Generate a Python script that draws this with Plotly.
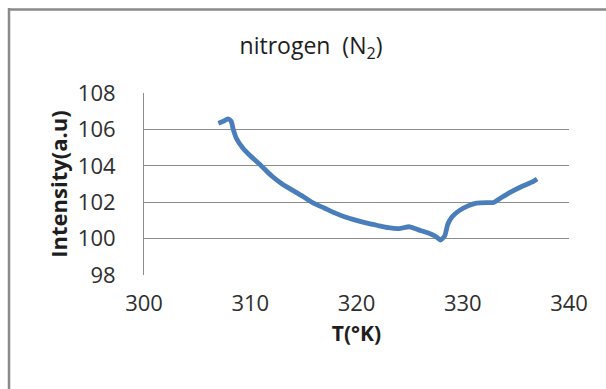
import plotly.graph_objects as go

# Temperature (K) and measured intensity (a.u.) for nitrogen
temperature = [307.0, 307.5, 307.9, 308.2, 308.4, 308.7, 309.3, 310.0, 311.0, 312.0,
               313.0, 314.0, 315.0, 316.0, 317.0, 318.0, 319.0, 320.0, 321.0, 322.0,
               323.0, 324.0, 325.0, 326.0, 327.0, 327.5, 327.9, 328.3, 328.6, 329.0,
               329.7, 330.5, 331.3, 332.3, 332.9, 333.5, 334.5, 335.5, 336.5, 337.0]
intensity = [106.33, 106.45, 106.58, 106.45, 106.0, 105.5, 104.98, 104.55, 104.02, 103.45,
             103.0, 102.65, 102.3, 101.93, 101.67, 101.4, 101.17, 101.0, 100.85, 100.72,
             100.6, 100.55, 100.65, 100.45, 100.25, 100.1, 99.92, 100.15, 100.8, 101.2,
             101.55, 101.8, 101.95, 101.98, 101.98, 102.2, 102.55, 102.85, 103.1, 103.28]

x_ticks = [300, 310, 320, 330, 340]
y_ticks = [98, 100, 102, 104, 106, 108]

W, H = 606, 389
ML, MR, MT, MB = 144, 37, 93, 114
PW, PH = W - ML - MR, H - MT - MB


def px_x(px):
    return (px - ML) / PW


def px_y(py):
    return (H - MB - py) / PH


font_family = "'Open Sans', 'Liberation Sans', sans-serif"
text_col = "#2e2e2e"
grid_col = "#8c8c8c"

fig = go.Figure()
fig.add_trace(go.Scatter(
    x=temperature, y=intensity, mode="lines",
    line=dict(color="#4a7ebb", width=4.8, shape="spline", smoothing=0.6),
    showlegend=False, hoverinfo="x+y",
))

fig.update_layout(
    width=W, height=H,
    margin=dict(l=ML, r=MR, t=MT, b=MB, pad=0),
    paper_bgcolor="white", plot_bgcolor="white",
    font=dict(family=font_family, color=text_col),
    title=dict(text="nitrogen  (N<sub>2</sub>)", x=(311 - ML) / PW, xref="paper",
               xanchor="center", y=1 - 46 / H, yanchor="middle",
               font=dict(size=23, color="#1e1e1e")),
    xaxis=dict(range=[300, 340], tickvals=x_ticks, showgrid=False, zeroline=False,
               showline=False, ticks="", ticklabelstandoff=13,
               tickfont=dict(size=22, color=text_col),
               title=dict(text="<b>T(°K)</b>", font=dict(size=21, color="#1e1e1e"), standoff=10)),
    yaxis=dict(range=[98, 108], tickvals=y_ticks, showgrid=True, gridcolor=grid_col,
               gridwidth=1, zeroline=False, showline=True, linecolor=grid_col, linewidth=1,
               ticks="", ticklabelstandoff=23,
               tickfont=dict(size=22, color=text_col),
               title=dict(text="<b>Intensity(a.u)</b>", font=dict(size=22, color="#1e1e1e"),
                          standoff=4)),
    shapes=[
        # outer chart frame (top and left edges visible)
        dict(type="line", xref="paper", yref="paper", x0=px_x(8), x1=px_x(W + 5),
             y0=px_y(9.5), y1=px_y(9.5), line=dict(color="#8a8a8a", width=2.5)),
        dict(type="line", xref="paper", yref="paper", x0=px_x(9), x1=px_x(9),
             y0=px_y(8), y1=px_y(H + 5), line=dict(color="#8a8a8a", width=2.5)),
    ],
)

fig.write_html("out.html")
